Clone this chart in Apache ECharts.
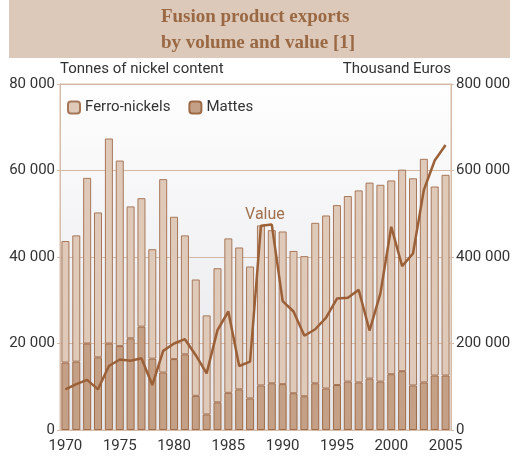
<!DOCTYPE html>
<html>
<head>
<meta charset="utf-8">
<script src="https://cdn.jsdelivr.net/npm/echarts@6/dist/echarts.min.js"></script>
<style>
html, body { margin: 0; padding: 0; background: #fff; }
#chart { width: 516px; height: 462px; }
</style>
</head>
<body>
<div id="chart"></div>
<script>
const years = ['1970','1971','1972','1973','1974','1975','1976','1977','1978','1979',
  '1980','1981','1982','1983','1984','1985','1986','1987','1988','1989',
  '1990','1991','1992','1993','1994','1995','1996','1997','1998','1999',
  '2000','2001','2002','2003','2004','2005']
const totals = [43700, 45000, 58300, 50300, 67400, 62300, 51700, 53600, 41800, 58000,
  49300, 45000, 34800, 26500, 37400, 44300, 42200, 37800, 47300, 46200,
  45900, 41400, 40200, 47900, 49600, 52000, 54100, 55400, 57200, 56700,
  57700, 60200, 58200, 62700, 56300, 59000]
const mattes = [15600, 15800, 20000, 16800, 20000, 19400, 21200, 23900, 16500, 13300,
  16400, 17500, 7900, 3600, 6400, 8600, 9400, 7300, 10300, 10800,
  10600, 8500, 7800, 10800, 9600, 10400, 11200, 11000, 11900, 11200,
  12900, 13600, 10300, 11000, 12600, 12600]
const ferro = totals.map((t, i) => t - mattes[i])
// thousand euros
const value = [94000, 106000, 116000, 94000, 148000, 163000, 160000, 166000, 104000, 183000,
  200000, 210000, 173000, 131000, 231000, 274000, 148000, 158000, 472000, 475000,
  298000, 274000, 218000, 233000, 260000, 304000, 306000, 324000, 230000, 316000,
  470000, 379000, 408000, 555000, 623000, 659000]

const sp = v => String(v).replace(/\B(?=(\d{3})+(?!\d))/g, ' ')
const txt = '#333'
const brown = '#9b6038'
const frame = '#d6bca9'

let chart = echarts.init(document.getElementById('chart'))
let option = {
    animation: false,
    textStyle: { fontFamily: 'Roboto' },
    graphic: [
        { type: 'rect', shape: { x: 9, y: 0, width: 501, height: 58 }, style: { fill: '#dcc9ba' }, z: -1 },
        {
            type: 'text', left: 'center', top: 4,
            style: {
                text: 'Fusion product exports\nby volume and value [1]',
                font: 'bold 19px "Liberation Serif"', fill: '#9a6843',
                align: 'center', lineHeight: 26
            }
        }
    ],
    legend: {
        left: 62, top: 95, itemWidth: 12, itemHeight: 12, itemGap: 18,
        data: ['Ferro-nickels', 'Mattes'],
        textStyle: { color: txt, fontSize: 15, fontFamily: 'Roboto' }
    },
    grid: {
        left: 60, right: 65, top: 84, bottom: 32, show: true,
        borderColor: frame, borderWidth: 1,
        backgroundColor: {
            type: 'linear', x: 0, y: 0, x2: 0, y2: 1,
            colorStops: [{ offset: 0, color: '#fefefe' }, { offset: 1, color: '#e5e6ea' }]
        }
    },
    xAxis: {
        type: 'category', data: years,
        axisLine: { lineStyle: { color: frame } },
        axisTick: { show: false },
        axisLabel: {
            color: txt, fontSize: 15, margin: 9,
            interval: (i) => i % 5 === 0
        }
    },
    yAxis: [
        {
            type: 'value', min: 0, max: 80000, interval: 20000,
            name: 'Tonnes of nickel content', nameGap: 3,
            nameTextStyle: { color: txt, fontSize: 15, align: 'left' },
            axisLine: { show: true, lineStyle: { color: frame } },
            axisTick: { show: true, length: 3, lineStyle: { color: frame } },
            axisLabel: { color: txt, fontSize: 15, margin: 5, formatter: sp },
            splitLine: { lineStyle: { color: '#d4b6a2' } }
        },
        {
            type: 'value', min: 0, max: 800000, interval: 200000,
            name: 'Thousand Euros', nameGap: 3,
            nameTextStyle: { color: txt, fontSize: 15, align: 'right' },
            axisLine: { show: true, lineStyle: { color: frame } },
            axisTick: { show: true, length: 3, lineStyle: { color: frame } },
            axisLabel: { color: txt, fontSize: 15, margin: 5, formatter: sp },
            splitLine: { show: false }
        }
    ],
    series: [
        {
            name: 'Mattes', type: 'bar', stack: 'vol', data: mattes, barWidth: 8,
            itemStyle: { color: '#c4a186', borderColor: '#9f6b47', borderWidth: 1 }
        },
        {
            name: 'Ferro-nickels', type: 'bar', stack: 'vol', data: ferro, barWidth: 8,
            itemStyle: { color: '#dfcab9', borderColor: '#a8775a', borderWidth: 1 }
        },
        {
            name: 'Value', type: 'line', yAxisIndex: 1, z: 5,
            symbol: 'circle', symbolSize: 0.1, showSymbol: true,
            data: value.map((v, i) => i === 18 ? {
                value: v,
                label: {
                    show: true, formatter: 'Value', position: 'top', distance: 3, offset: [4, 0],
                    color: '#a0704f', fontSize: 16
                }
            } : v),
            itemStyle: { color: brown },
            lineStyle: { color: brown, width: 2.5 }
        }
    ]
}
chart.setOption(option)
</script>
</body>
</html>
